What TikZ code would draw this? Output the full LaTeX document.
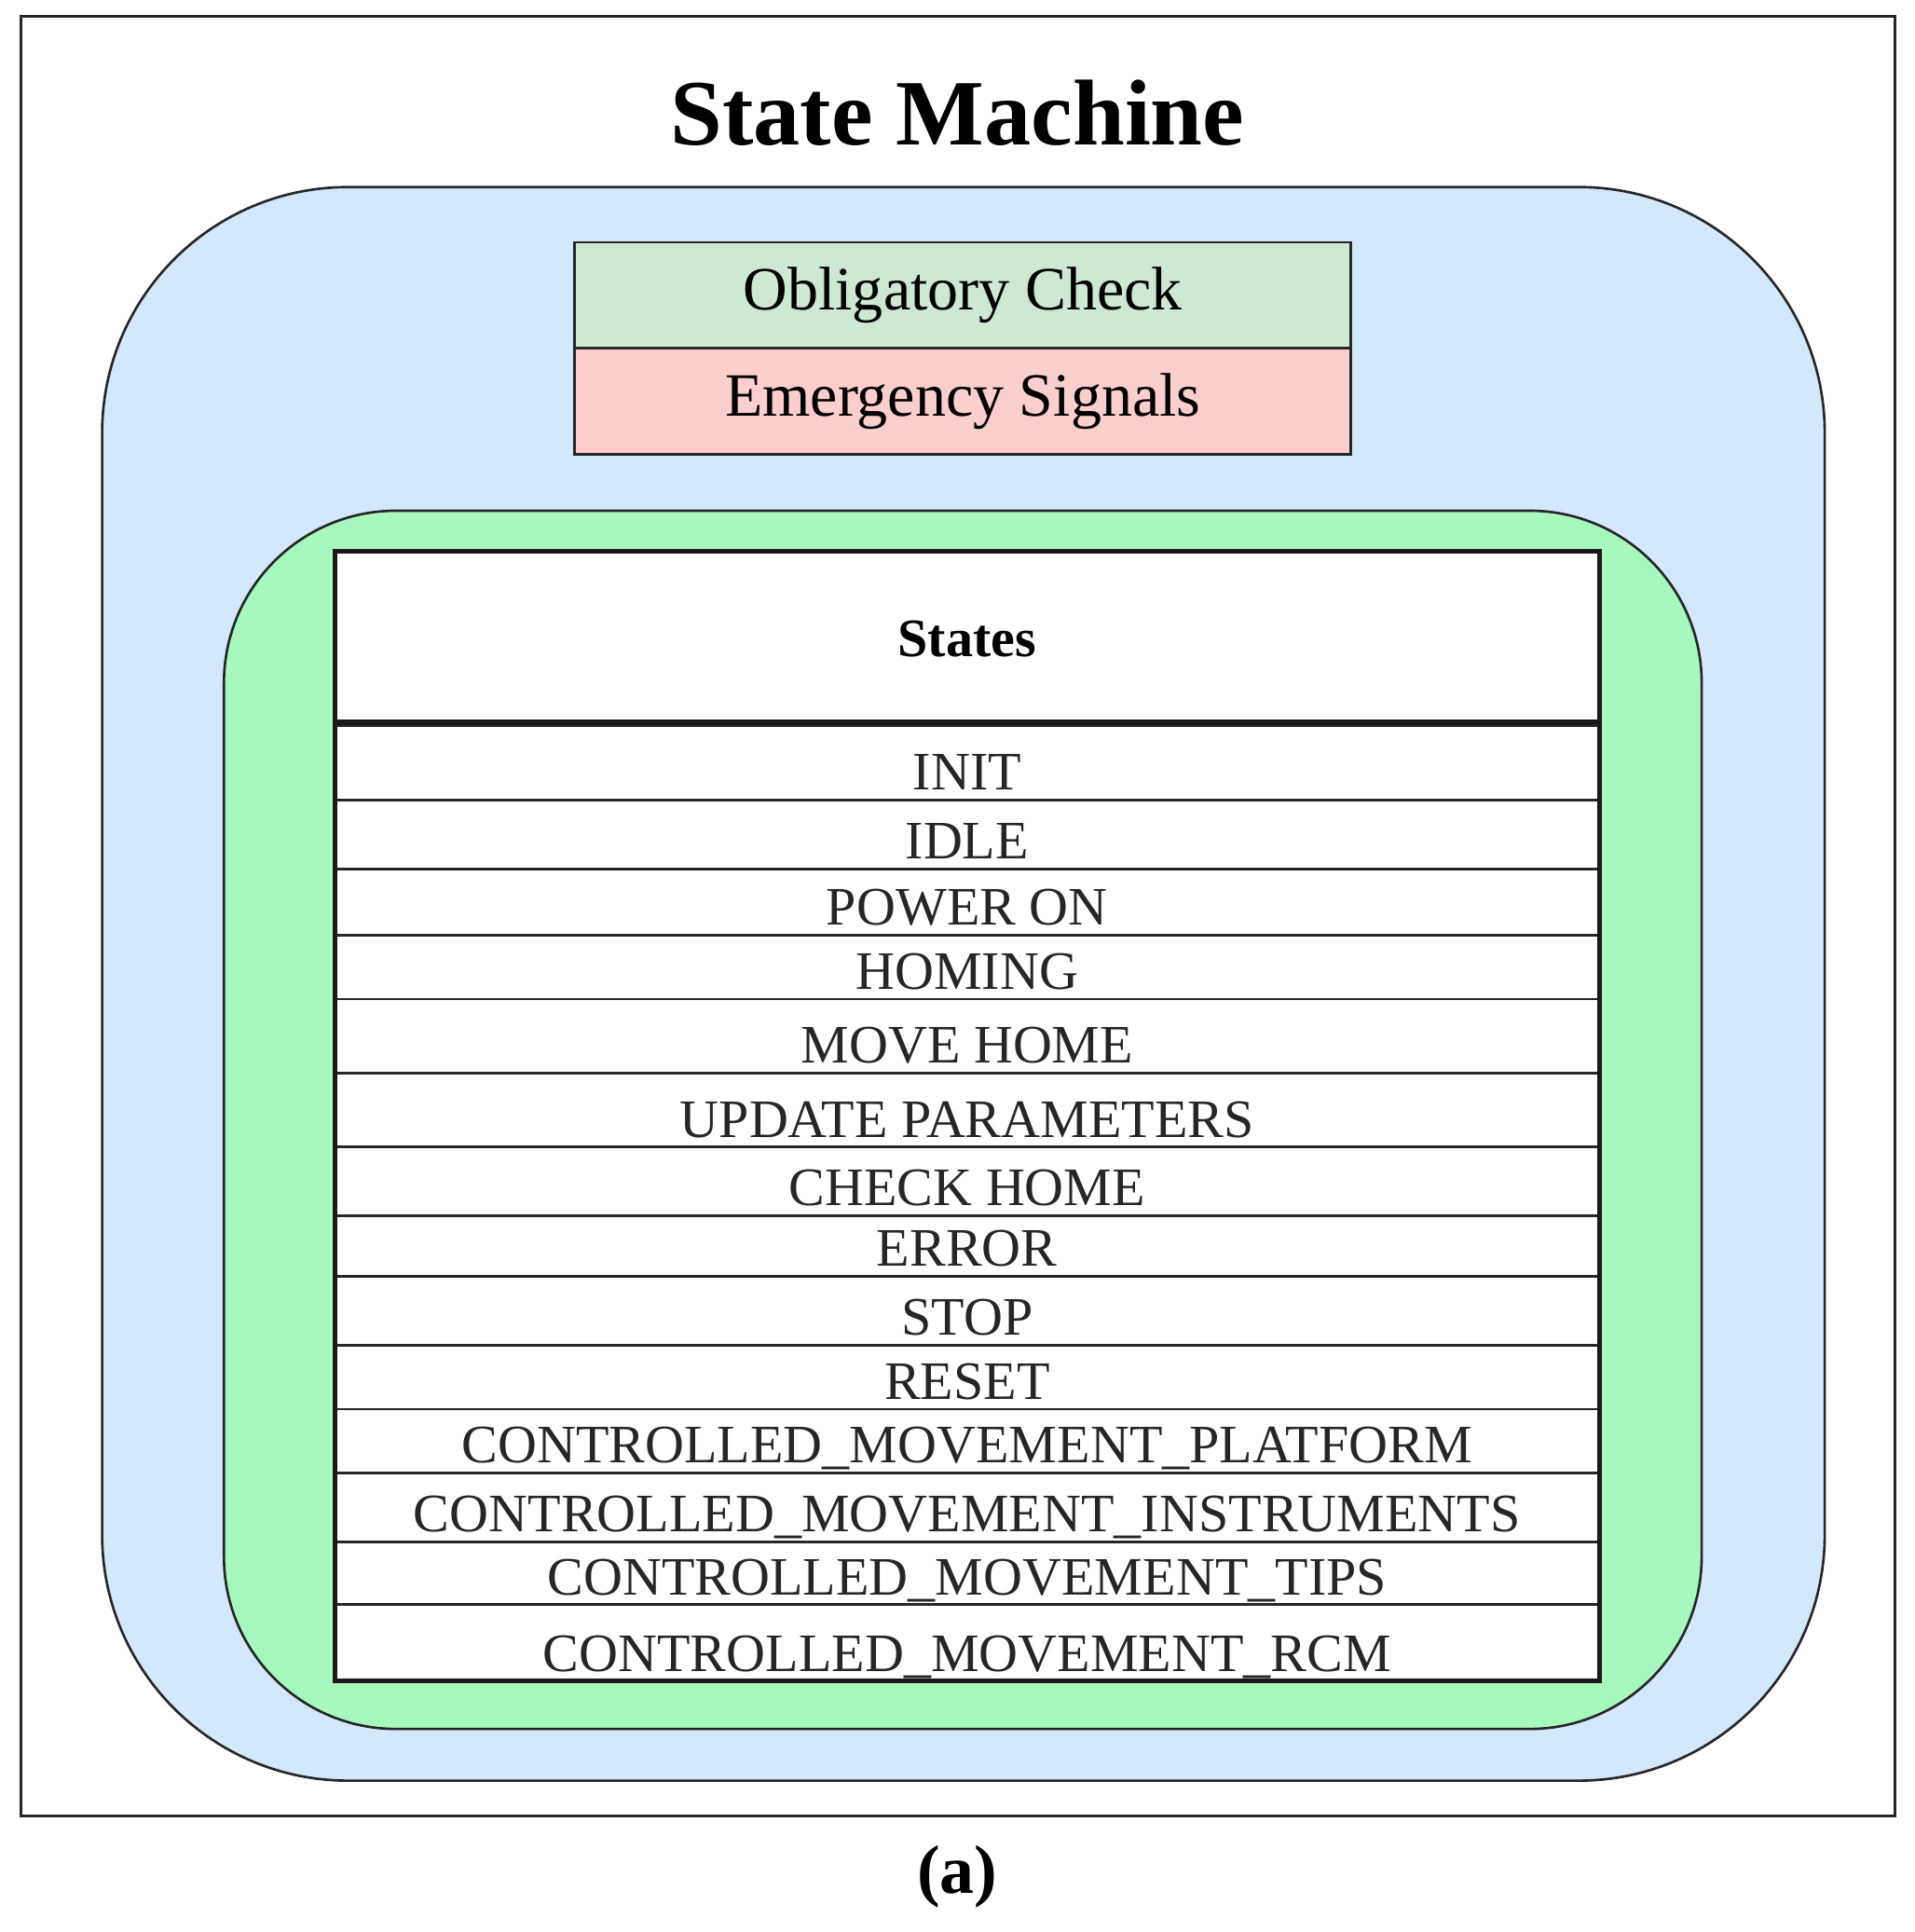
\documentclass[tikz,border=0pt]{standalone}
\usepackage{fontspec}
\setmainfont{Liberation Serif}
\begin{document}
\begin{tikzpicture}[x=0.5pt,y=-0.5pt,
  frame/.style={draw=black!85,line width=1pt},
  rowtxt/.style={font=\fontsize{22}{24}\selectfont,text=black!85}]
\useasboundingbox (0,0) rectangle (1556,1570);
\fill[white] (0,0) rectangle (1556,1570);
\draw[frame,line width=1.2pt] (17,13) rectangle (1540,1476);
\node[font=\bfseries\fontsize{38}{44}\selectfont] (title) at (778,92) {State Machine};
\draw[frame,fill={rgb,255:red,212;green,232;blue,252},rounded corners=100pt] (83,152) rectangle (1483,1447);
\node[frame,fill={rgb,255:red,206;green,232;blue,212},minimum width=315.5pt,minimum height=43pt,inner sep=0pt,font=\fontsize{25}{28}\selectfont] (obl) at (782.5,240) {Obligatory Check};
\node[frame,fill={rgb,255:red,252;green,206;blue,206},minimum width=315.5pt,minimum height=43pt,inner sep=0pt,font=\fontsize{25}{28}\selectfont] (emg) at (782.5,326) {Emergency Signals};
\draw[frame,fill={rgb,255:red,166;green,248;blue,190},rounded corners=70pt] (182,415) rectangle (1383,1405);
\fill[white] (272,448) rectangle (1300,1366);
\node[font=\bfseries\fontsize{22}{26}\selectfont] (st) at (786,519) {States};
\foreach \a/\b/\t [count=\i] in {590/650/INIT,650/706/IDLE,706/760/POWER ON,760/812/HOMING,812/872/MOVE HOME,872/932/UPDATE PARAMETERS,932/988/CHECK HOME,988/1037/ERROR,1037/1093/STOP,1093/1145/RESET,1145/1197/CONTROLLED\_MOVEMENT\_PLATFORM,1197/1253/CONTROLLED\_MOVEMENT\_INSTRUMENTS,1253/1304/CONTROLLED\_MOVEMENT\_TIPS,1304/1366/CONTROLLED\_MOVEMENT\_RCM}{
  \draw[black!85,line width=1pt] (272,\a) rectangle (1300,\b);
  \node[rowtxt,anchor=base] (r\i) at (786,{\b-8}) {\t};
}
\draw[black!90,line width=2pt] (272,587) -- (1300,587);
\draw[black!90,line width=2pt] (272,448) rectangle (1300,1366);
\node[font=\bfseries\fontsize{28}{32}\selectfont] (lab) at (778,1525) {(a)};
\end{tikzpicture}
\end{document}
